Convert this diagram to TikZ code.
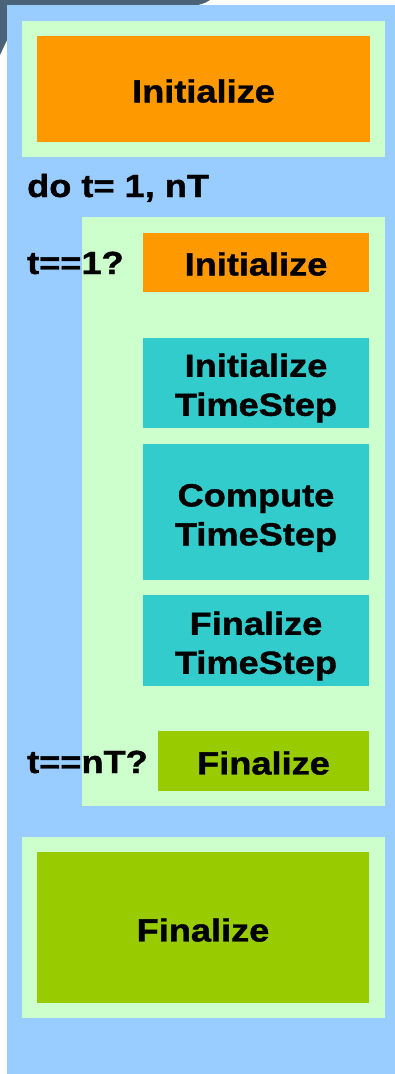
\documentclass[tikz,border=0pt]{standalone}
\usepackage{fontspec}
\newfontfamily\blk{Liberation Sans}[FakeStretch=1.13, FakeBold=1.2]
\definecolor{panelblue}{HTML}{99CCFF}
\definecolor{framegreen}{HTML}{CCFFCC}
\definecolor{initorange}{HTML}{FF9900}
\definecolor{stepteal}{HTML}{33CCCC}
\definecolor{finalgreen}{HTML}{99CC00}
\definecolor{photo}{HTML}{4A6378}
\tikzset{
  x=1pt, y=-1pt,
  lbl/.style={font=\blk\bfseries\fontsize{32}{39}\selectfont, text=black, inner sep=0pt, align=center},
  side/.style={font=\blk\bfseries\fontsize{32}{39}\selectfont, text=black, inner sep=0pt, anchor=base west},
}
\begin{document}
\begin{tikzpicture}
\useasboundingbox (0,0) rectangle (395,1074);
\fill[white] (0,0) rectangle (395,1074);
% fragment of the slide backdrop peeking out at the top left
\fill[photo] (0,0) -- (210,0) .. controls (205,3) .. (198,5) -- (7,5) -- (7,40) .. controls (4,48) .. (0,55) -- cycle;
% loop panel
\fill[panelblue] (7,5) rectangle (395,1074);
% outer frames
\fill[framegreen] (22,21) rectangle (385,157);
\fill[framegreen] (82,217) rectangle (385,806);
\fill[framegreen] (22,837) rectangle (385,1018);
% blocks
\fill[initorange] (37,36) rectangle (370,142);
\node[lbl] (init) at (203.5,91) {Initialize};
\fill[initorange] (143,233) rectangle (369,292);
\node[lbl] (init1) at (256,264) {Initialize};
\fill[stepteal] (143,338) rectangle (369,428);
\node[lbl] (initts) at (256,388) {Initialize\\TimeStep};
\fill[stepteal] (143,444) rectangle (369,580);
\node[lbl] (compts) at (256,518) {Compute\\TimeStep};
\fill[stepteal] (143,595) rectangle (369,686);
\node[lbl] (fints) at (256,646) {Finalize\\TimeStep};
\fill[finalgreen] (158,731) rectangle (369,791);
\node[lbl] (fin1) at (263.5,763) {Finalize};
\fill[finalgreen] (37,852) rectangle (369,1003);
\node[lbl] (fin) at (203,930) {Finalize};
% loop annotations
\node[side] (loop) at (27,197) {do t= 1, nT};
\node[side] (first) at (27,274) {t==1?};
\node[side] (last) at (27,773) {t==nT?};
\end{tikzpicture}
\end{document}
